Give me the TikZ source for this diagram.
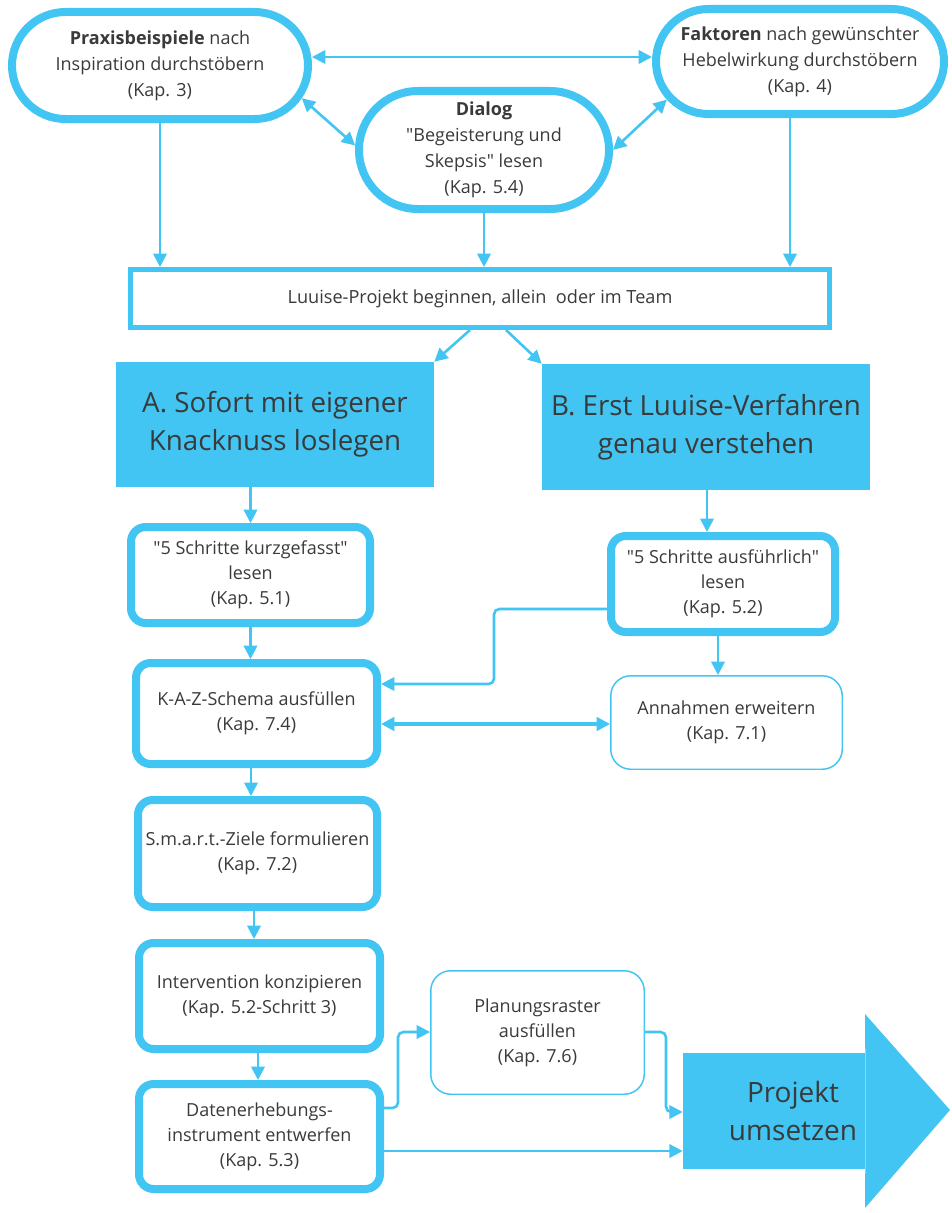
\documentclass[tikz,border=0pt]{standalone}
\usepackage{fontspec}
\setmainfont{Open Sans}
\usetikzlibrary{arrows.meta,shapes.misc}
\definecolor{lb}{HTML}{42C5F2}
\definecolor{tx}{HTML}{3A3A3A}
\newcommand{\qq}{\textquotedbl}
\begin{document}
\begin{tikzpicture}[x=0.75pt,y=-0.75pt,
  pill/.style={rounded rectangle, draw=lb, line width=6pt, fill=white, text=tx, align=center, inner sep=0pt, font=\fontsize{13.5}{19.5}\selectfont},
  rbox/.style={rectangle, rounded corners=11pt, draw=lb, line width=6pt, fill=white, text=tx, align=center, inner sep=0pt, font=\fontsize{13.5}{18.75}\selectfont},
  tbox/.style={rectangle, rounded corners=15pt, draw=lb, line width=1.1pt, fill=white, text=tx, align=center, inner sep=0pt, font=\fontsize{13.5}{18.75}\selectfont},
  fbox/.style={rectangle, fill=lb, text=tx, align=center, inner sep=0pt, font=\fontsize{20.8}{28.5}\selectfont},
  arr/.style={draw=lb, line width=1.95pt, -{Triangle[length=10pt,width=10pt]}},
  darr/.style={draw=lb, line width=1.95pt, {Triangle[length=10pt,width=10pt]}-{Triangle[length=10pt,width=10pt]}},
]
\useasboundingbox[fill=white] (0,0) rectangle (951,1213);

% top row
\node[pill, minimum width=222pt, minimum height=80.25pt] (praxis) at (160,65.5)
  {\textbf{Praxisbeispiele} nach\\Inspiration durchstöbern\\(Kap. 3)};
\node[pill, minimum width=216pt, minimum height=78.75pt] (faktoren) at (800,61.5)
  {\textbf{Faktoren} nach gewünschter\\Hebelwirkung durchstöbern\\(Kap. 4)};
\node[pill, minimum width=187.5pt, minimum height=88.5pt] (dialog) at (484,150)
  {\textbf{Dialog}\\\qq Begeisterung und\\Skepsis\qq{} lesen\\(Kap. 5.4)};

\node[draw=lb, line width=3.75pt, fill=white, minimum width=524pt, minimum height=43.5pt, inner sep=0pt, text=tx, font=\fontsize{13.6}{16}\selectfont] (luuise) at (480,298.5)
  {Luuise-Projekt beginnen, allein~ oder im Team};

\node[fbox, minimum width=238.5pt, minimum height=93.75pt] (A) at (275,424.5) {A. Sofort mit eigener\\Knacknuss loslegen};
\node[fbox, minimum width=246pt, minimum height=94.5pt] (B) at (706,427) {B. Erst Luuise-Verfahren\\genau verstehen};

\node[rbox, minimum width=179.25pt, minimum height=72pt] (kurz) at (250.5,575) {\qq 5 Schritte kurzgefasst\qq\\lesen\\(Kap. 5.1)};
\node[rbox, minimum width=168pt, minimum height=72pt] (ausf) at (723,584) {\qq 5 Schritte ausführlich\qq\\lesen\\(Kap. 5.2)};
\node[rbox, minimum width=180.75pt, minimum height=75.75pt] (kaz) at (256.5,713.5) {K-A-Z-Schema ausfüllen\\(Kap. 7.4)};
\node[tbox, minimum width=173.6pt, minimum height=70.1pt] (annahmen) at (726.5,722.5) {Annahmen erweitern\\(Kap. 7.1)};
\node[rbox, minimum width=179.25pt, minimum height=80.25pt] (smart) at (257.5,853.5) {S.m.a.r.t.-Ziele formulieren\\(Kap. 7.2)};
\node[rbox, minimum width=180.75pt, minimum height=79.5pt] (interv) at (259.5,996) {Intervention konzipieren\\(Kap. 5.2-Schritt 3)};
\node[rbox, minimum width=180.75pt, minimum height=78.75pt] (daten) at (259.5,1136.5) {Datenerhebungs-\\instrument entwerfen\\(Kap. 5.3)};
\node[tbox, minimum width=160.1pt, minimum height=92.6pt] (plan) at (537.5,1032.5) {Planungsraster\\ausfüllen\\(Kap. 7.6)};

% big arrow
\node[fill=lb, minimum width=136.5pt, minimum height=87pt, inner sep=0pt] (projbody) at (774,1111) {};
\fill[lb] (projbody.north east) -- (865,1014) -- (950,1110) -- (865,1208) -- (projbody.south east) -- cycle;
\node[text=tx, align=center, font=\fontsize{21}{28}\selectfont] (proj) at (793,1111) {Projekt\\umsetzen};

% connectors
\draw[darr] (praxis.east |- 0,57) -- (faktoren.west |- 0,57);
\draw[darr] (praxis.-13) -- (dialog.178);
\draw[darr] (dialog.east) -- (faktoren.196);
\draw[arr] (praxis.south) -- (praxis.south |- luuise.north);
\draw[arr] (dialog.south) -- (dialog.south |- luuise.north);
\draw[arr] (faktoren.south -| 790,0) -- (luuise.north -| 790,0);
\draw[arr] (luuise.south -| 470,0) -- (A.north east);
\draw[arr] (luuise.south -| 506,0) -- (B.north west);
\draw[arr] (kurz.north |- A.south) -- (kurz.north);
\draw[arr] (B.south -| 707,0) -- (ausf.north -| 707,0);
\draw[arr] (kurz.south) -- (kurz.south |- kaz.north);
\draw[arr] (ausf.south -| 718,0) -- (annahmen.north -| 718,0);
\draw[arr, rounded corners=4pt] (ausf.west |- 0,609) -- (494,609) -- (494,684) -- (kaz.east |- 0,684);
\draw[darr, line width=2.8pt] (kaz.east |- 0,724) -- (annahmen.west |- 0,724);
\draw[arr] (kaz.south -| 251,0) -- (smart.north -| 251,0);
\draw[arr] (smart.south -| 254,0) -- (interv.north -| 254,0);
\draw[arr] (interv.south -| 258,0) -- (daten.north -| 258,0);
\draw[arr, rounded corners=4pt] (daten.east |- 0,1108) -- (398,1108) -- (398,1032) -- (plan.west |- 0,1032);
\draw[arr, rounded corners=4pt] (plan.east |- 0,1032) -- (666,1032) -- (666,1112) -- (projbody.west |- 0,1112);
\draw[arr] (daten.east |- 0,1151) -- (projbody.west |- 0,1151);
\end{tikzpicture}
\end{document}
